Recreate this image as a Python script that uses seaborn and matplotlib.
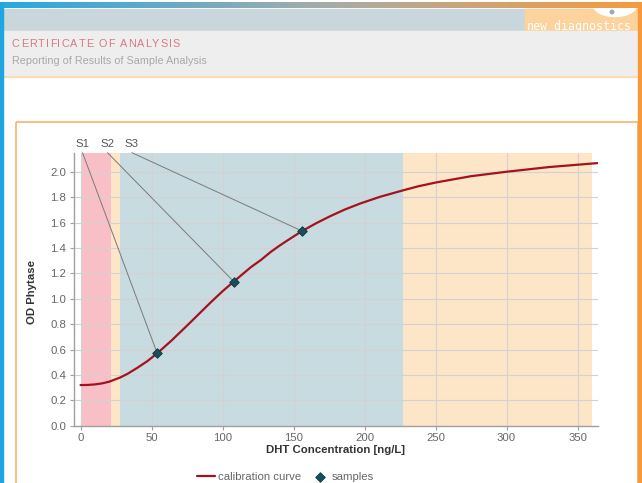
import matplotlib
matplotlib.use("Agg")
import numpy as np
import matplotlib.pyplot as plt
import seaborn as sns
from matplotlib.patches import Rectangle, Ellipse, Circle
from matplotlib.textpath import TextToPath
from matplotlib.font_manager import FontProperties

# ---------------- data ----------------
curve_conc = [0, 5, 10, 15, 20, 28, 33, 40, 47, 54, 64, 75, 83, 91, 100, 108,
              120, 127, 134, 140, 145, 150, 156, 166, 176, 186, 197, 211, 226,
              238, 251, 275, 300, 330, 364]
curve_od = [0.320, 0.321, 0.325, 0.333, 0.346, 0.380, 0.408, 0.456, 0.508, 0.570,
            0.670, 0.788, 0.876, 0.964, 1.059, 1.136, 1.249, 1.305, 1.369, 1.417,
            1.454, 1.490, 1.533, 1.595, 1.651, 1.702, 1.750, 1.803, 1.850,
            1.886, 1.917, 1.965, 2.000, 2.037, 2.068]

sample_names = ["S1", "S2", "S3"]
sample_conc = [54, 108, 156]
sample_od = [0.57, 1.134, 1.533]

range_edges = [0, 21.6, 27.7, 226.8, 360]

x_ticks = [0, 50, 100, 150, 200, 250, 300, 350]
y_ticks = [0.0, 0.2, 0.4, 0.6, 0.8, 1.0, 1.2, 1.4, 1.6, 1.8, 2.0]

title_text = "CERTIFICATE OF ANALYSIS"
subtitle_text = "Reporting of Results of Sample Analysis"
brand_text = "new_diagnostics"
x_label = "DHT Concentration [ng/L]"
y_label = "OD Phytase"
curve_label = "calibration curve"
samples_label = "samples"

# ---------------- style ----------------
sns.set_theme(style="white")
plt.rcParams['font.family'] = ['Liberation Sans', 'DejaVu Sans']

W, H = 642, 483
fig = plt.figure(figsize=(W / 100, H / 100), dpi=100)

# overlay axes in pixel coordinates for the page decoration
bg = fig.add_axes([0, 0, 1, 1], zorder=0)
bg.axis("off")

bg.add_patch(Rectangle((0, 0), W, H, color="white", zorder=0))
# gradient strip on top
c_left = np.array([38, 168, 226]) / 255
c_mid = np.array([165, 172, 170]) / 255
c_right = np.array([248, 155, 60]) / 255
t = np.linspace(0, 1, 300)[:, None]
grad = np.where(t < 0.5, c_left + (c_mid - c_left) * (t / 0.5),
                c_mid + (c_right - c_mid) * ((t - 0.5) / 0.5))
bg.imshow(grad[None, :, :], extent=[0, W, 8.5, 3], aspect="auto", zorder=5)
bg.set_xlim(0, W)
bg.set_ylim(H, 0)
# side borders
bg.add_patch(Rectangle((0, 3), 3.3, H, color="#1fa6e0", zorder=6))
bg.add_patch(Rectangle((637.5, 3), 5, H, color="#f7993a", zorder=6))
# header band
bg.add_patch(Rectangle((3.3, 8.5), 634.2, 22, color="#c9d7dc", zorder=1))
bg.add_patch(Rectangle((525, 8.5), 112.5, 22, color="#fcd39d", zorder=1.5))
bg.add_patch(Ellipse((615, 6), 42, 21, color="white", zorder=2))
bg.add_patch(Circle((612, 12), 1.8, color="#8fb0bd", zorder=2.5))
bg.text(527, 29.8, brand_text, color="white", fontsize=8.4,
        family="DejaVu Sans Mono", va="baseline", ha="left", zorder=2)
# grey title panel
bg.add_patch(Rectangle((3.3, 30.5), 634.2, 46, color="#efeeee", zorder=3))
bg.plot([3.3, 637.5], [77, 77], color="#fcdcb4", lw=1.5, zorder=3.5)

# letter-spaced title
def spaced_text(x0, x1, y, s, fs, color):
    fp = FontProperties(family="Liberation Sans", size=fs)
    ttp = TextToPath()
    widths = [ttp.get_text_width_height_descent(ch, fp, ismath=False)[0] * 100 / 72
              for ch in s]
    extra = ((x1 - x0) - sum(widths)) / (len(s) - 1)
    x = x0
    for ch, w in zip(s, widths):
        bg.text(x, y, ch, color=color, fontsize=fs, family="Liberation Sans",
                va="center", ha="left", zorder=4)
        x += w + extra

spaced_text(12, 180, 44, title_text, 7.8, "#d67a82")
bg.text(12, 61, subtitle_text, color="#a9a9a9", fontsize=7.8, va="center",
        ha="left", zorder=4)
# chart box
bg.add_patch(Rectangle((15.5, 121.7), 622, 400, fill=False,
                       edgecolor="#f8b46a", lw=1.2, zorder=3))

# ---------------- chart ----------------
ax_left, ax_right, ax_top, ax_bottom = 74, 598, 152.7, 425.7
ax = fig.add_axes([ax_left / W, 1 - ax_bottom / H,
                   (ax_right - ax_left) / W, (ax_bottom - ax_top) / H], zorder=2)
ax.set_facecolor("none")

band_colors = ["#f8c0c6", "#fde5c8", "#c8dbe0", "#fde5c8"]
for i in range(len(range_edges) - 1):
    ax.axvspan(range_edges[i], range_edges[i + 1], color=band_colors[i],
               lw=0, zorder=0)

sns.lineplot(x=curve_conc, y=curve_od, ax=ax, color="#a5121f", lw=1.6,
             label=curve_label, zorder=3)
sns.scatterplot(x=sample_conc, y=sample_od, ax=ax, marker="D", s=24,
                color="#16505c", edgecolor="#0d3540", linewidth=0.6,
                label=samples_label, zorder=4)

ax.set_xlim(-4.6, 364.4)
ax.set_ylim(0, 2.15)
ax.set_xticks(x_ticks)
ax.set_yticks(y_ticks)
ax.set_yticklabels([f"{v:.1f}" for v in y_ticks])
ax.grid(True, color="#d2d2d2", lw=0.8)
ax.set_axisbelow(True)
for s in ["top", "right"]:
    ax.spines[s].set_visible(False)
for s in ["left", "bottom"]:
    ax.spines[s].set_color("#a0a0a0")
    ax.spines[s].set_linewidth(1)
ax.tick_params(bottom=True, left=True, length=3, width=0.8, color="#a0a0a0",
               labelsize=8.2, labelcolor="#666666", pad=2.5)

ax.set_xlabel(x_label, fontsize=8.2, fontweight="bold", color="#333333")
ax.set_ylabel(y_label, fontsize=8.2, fontweight="bold", color="#333333")
ax.xaxis.set_label_coords(0.5, -0.072)
ax.yaxis.set_label_coords(-0.07, 0.49)

# sample labels with leader lines
label_x = [1.4, 19.0, 36.2]
for name, lx, sx, sy in zip(sample_names, label_x, sample_conc, sample_od):
    ax.plot([lx, sx], [2.15, sy], color="#7a7a7a", lw=0.7, zorder=2,
            clip_on=False)
    ax.text(lx, 2.18, name, ha="center", va="bottom", fontsize=8.2,
            color="#555555", clip_on=False)

handles, labels = ax.get_legend_handles_labels()
ax.get_legend().remove()
fig.legend(handles, labels, loc="center", ncol=2, frameon=False,
           bbox_to_anchor=(285.5 / W, 1 - 476.5 / H), fontsize=8.2,
           labelcolor="#666666", handlelength=1.6, handletextpad=0.3,
           columnspacing=0.8, borderpad=0, borderaxespad=0)

fig.savefig("out.png", dpi=100)
